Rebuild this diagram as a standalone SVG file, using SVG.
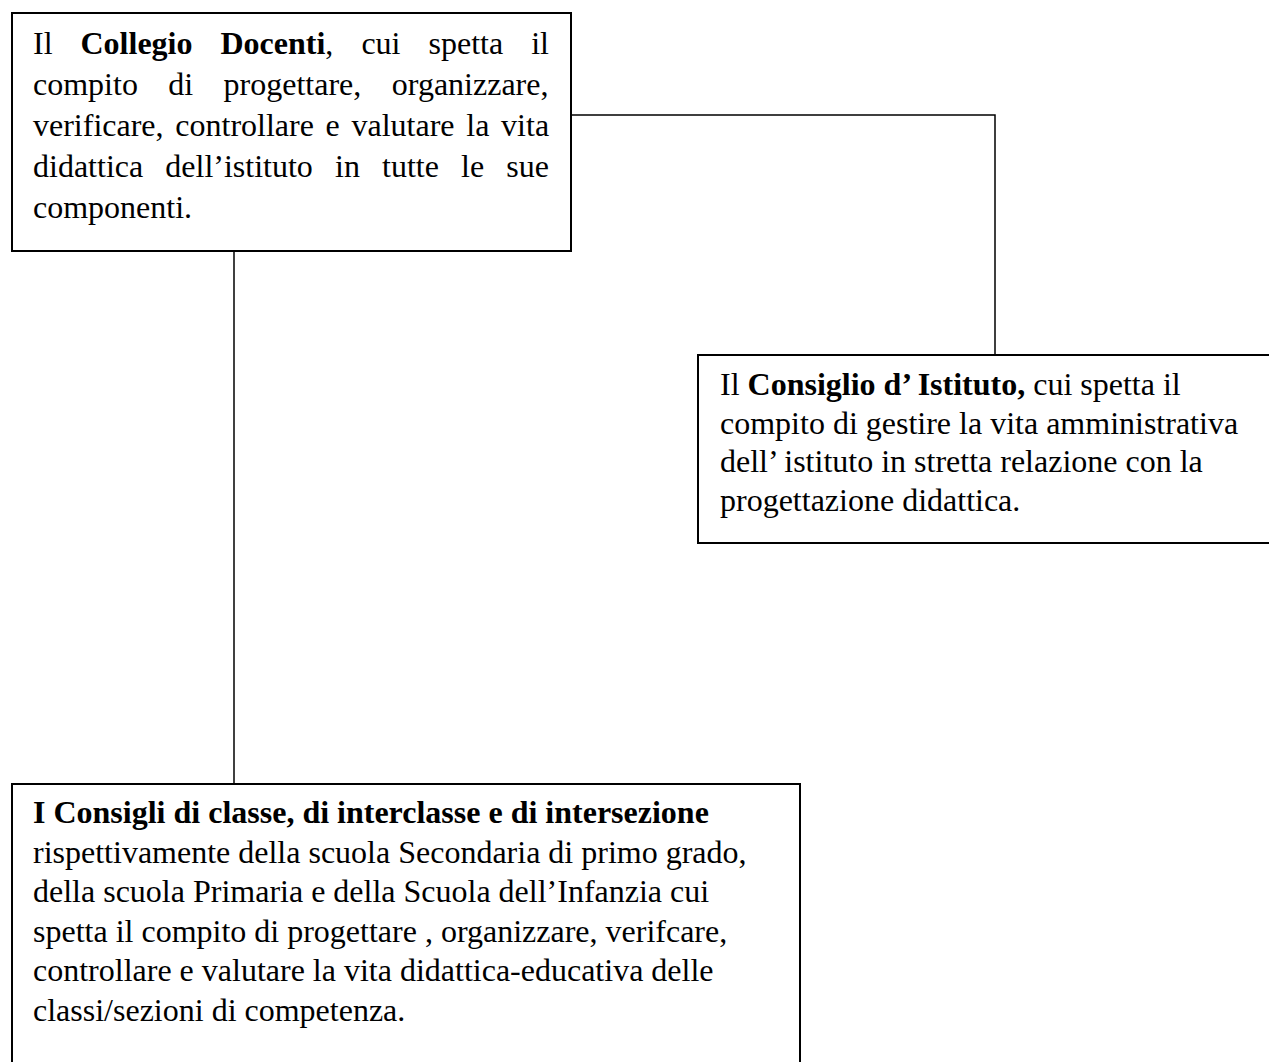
<svg xmlns="http://www.w3.org/2000/svg" width="1269" height="1062" viewBox="0 0 1269 1062">
<style>
.box{fill:#fff;stroke:#000;stroke-width:2}
.conn{fill:none;stroke:#000;stroke-width:1.5}
text{font-family:"Liberation Serif","Times New Roman",serif;font-size:32px;fill:#000}
.b{font-weight:bold}
</style>
<rect width="1269" height="1062" fill="#fff"/>
<g id="connectors">
<polyline class="conn" points="571,115 995,115 995,355"/>
<line class="conn" x1="234" y1="251" x2="234" y2="784"/>
</g>
<g id="collegio">
<rect class="box" x="12" y="13" width="559" height="238"/>
<text y="54"><tspan x="33">Il</tspan><tspan class="b" x="80.5">Collegio</tspan><tspan class="b" x="220.5">Docenti</tspan><tspan>,</tspan><tspan x="361.4">cui</tspan><tspan x="428.5">spetta</tspan><tspan x="531.2">il</tspan></text>
<text y="95"><tspan x="33">compito</tspan><tspan x="168.3">di</tspan><tspan x="223.6">progettare,</tspan><tspan x="391.8">organizzare,</tspan></text>
<text y="136"><tspan x="33">verificare,</tspan><tspan x="175.3">controllare</tspan><tspan x="325.6">e</tspan><tspan x="351.5">valutare</tspan><tspan x="466.3">la</tspan><tspan x="501.1">vita</tspan></text>
<text y="177"><tspan x="33">didattica</tspan><tspan x="165.3">dell’istituto</tspan><tspan x="335">in</tspan><tspan x="382">tutte</tspan><tspan x="461">le</tspan><tspan x="506.2">sue</tspan></text>
<text x="33" y="218">componenti.</text>
</g>
<g id="consiglio-istituto">
<rect class="box" x="698" y="355" width="600" height="188"/>
<text x="720" y="395">Il <tspan class="b">Consiglio d’ Istituto,</tspan> cui spetta il</text>
<text x="720" y="433.5">compito di gestire la vita amministrativa</text>
<text x="720" y="472">dell’ istituto in stretta relazione con la</text>
<text x="720" y="510.5">progettazione didattica.</text>
</g>
<g id="consigli-classe">
<rect class="box" x="12" y="784" width="788" height="300"/>
<text class="b" x="33" y="823">I Consigli di classe, di interclasse e di intersezione</text>
<text x="33" y="862.5">rispettivamente della scuola Secondaria di primo grado,</text>
<text x="33" y="902">della scuola Primaria e della Scuola dell’Infanzia cui</text>
<text x="33" y="941.5">spetta il compito di progettare , organizzare, verifcare,</text>
<text x="33" y="981">controllare e valutare la vita didattica-educativa delle</text>
<text x="33" y="1020.5">classi/sezioni di competenza.</text>
</g>
</svg>
